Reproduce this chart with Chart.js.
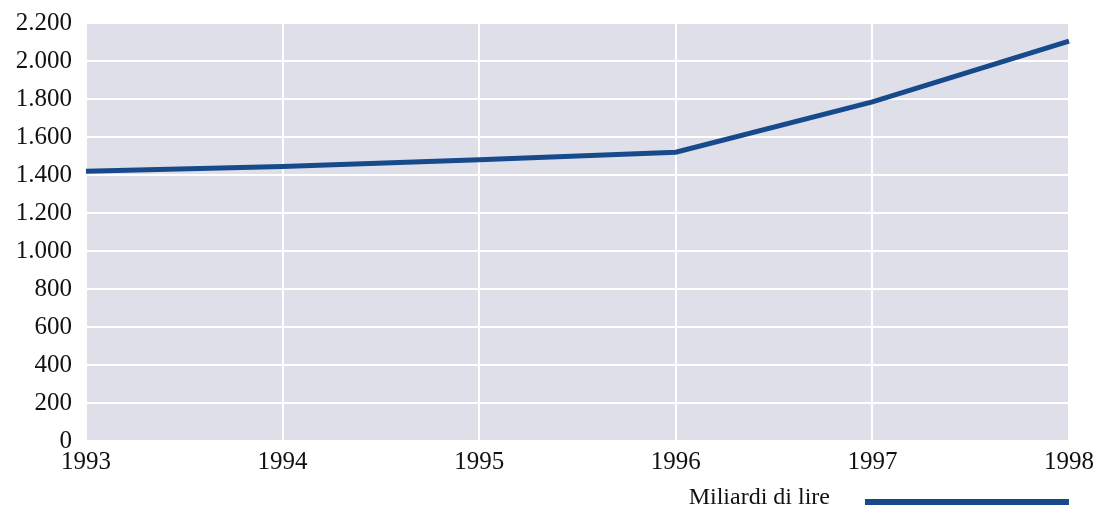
<!DOCTYPE html>
<html>
<head>
<meta charset="utf-8">
<script src="https://cdn.jsdelivr.net/npm/chart.js@4/dist/chart.umd.min.js"></script>
<style>
  html, body { margin: 0; padding: 0; background: #fff; }
  #wrap { width: 1095px; height: 506px; position: relative; }
</style>
</head>
<body>
<div id="wrap"><canvas id="chart"></canvas></div>
<script>
// data
const years = ['1993', '1994', '1995', '1996', '1997', '1998'];
const values = [1420, 1445, 1480, 1520, 1785, 2105];
const seriesLabel = 'Miliardi di lire';
const yMax = 2200;
const yStep = 200;

const lineColor = '#174a8a';
const plotBg = '#dfdfea';
const fontFamily = '"Liberation Serif", "Times New Roman", serif';

// fill plot area
const plotBackground = {
  id: 'plotBackground',
  beforeDraw(chart) {
    const { ctx, chartArea: a } = chart;
    ctx.save();
    ctx.fillStyle = plotBg;
    ctx.fillRect(a.left, a.top, a.right - a.left, a.bottom - a.top);
    ctx.restore();
  }
};

// legend: text then line sample, bottom right
const lineLegend = {
  id: 'lineLegend',
  afterDraw(chart) {
    const { ctx, chartArea: a } = chart;
    const ds = chart.data.datasets[0];
    const x1 = a.right, x0 = x1 - 204, y = 502;
    ctx.save();
    ctx.strokeStyle = ds.borderColor;
    ctx.lineWidth = 6;
    ctx.beginPath();
    ctx.moveTo(x0, y);
    ctx.lineTo(x1, y);
    ctx.stroke();
    ctx.fillStyle = '#111';
    ctx.font = '24px ' + fontFamily;
    ctx.textAlign = 'right';
    ctx.textBaseline = 'alphabetic';
    ctx.fillText(ds.label, x0 - 35, 504);
    ctx.restore();
  }
};

const fmt = new Intl.NumberFormat('it-IT');

new Chart(document.getElementById('chart'), {
  type: 'line',
  data: {
    labels: years,
    datasets: [{
      label: seriesLabel,
      data: values,
      borderColor: lineColor,
      backgroundColor: lineColor,
      borderWidth: 5,
      pointRadius: 0,
      tension: 0,
      fill: false
    }]
  },
  options: {
    responsive: true,
    maintainAspectRatio: false,
    animation: false,
    layout: { padding: { top: 23, right: 26, bottom: 0, left: 0 } },
    plugins: {
      legend: { display: false },
      tooltip: { enabled: false }
    },
    scales: {
      x: {
        offset: false,
        grid: { color: '#ffffff', lineWidth: 2, drawTicks: false },
        border: { display: false },
        ticks: {
          color: '#111',
          font: { family: fontFamily, size: 25 },
          padding: 6,
          maxRotation: 0
        },
        afterFit(scale) {
          scale.height = 65;
          scale.paddingLeft = 0;
          scale.paddingRight = 0;
        }
      },
      y: {
        min: 0,
        max: yMax,
        grid: { color: '#ffffff', lineWidth: 2, drawTicks: false },
        border: { display: false },
        ticks: {
          stepSize: yStep,
          color: '#111',
          font: { family: fontFamily, size: 25 },
          padding: 14,
          callback: v => fmt.format(v)
        },
        afterFit(scale) {
          scale.width = 86;
          scale.paddingTop = 0;
          scale.paddingBottom = 0;
        }
      }
    }
  },
  plugins: [plotBackground, lineLegend]
});
</script>
</body>
</html>
